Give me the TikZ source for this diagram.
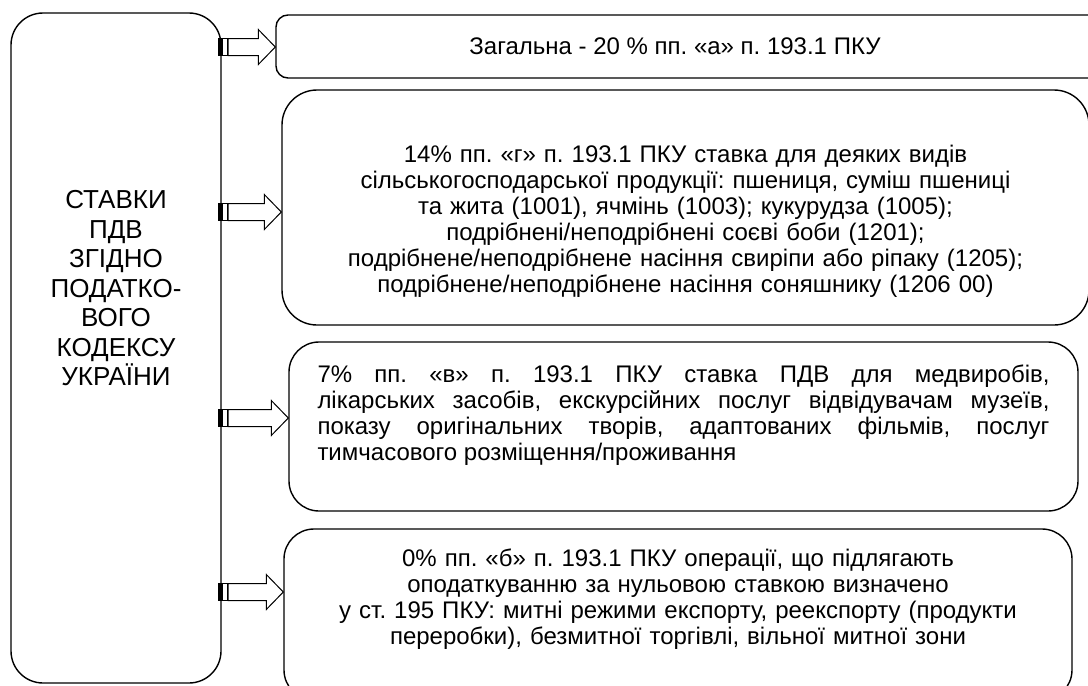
\documentclass[tikz,border=0pt]{standalone}
\usepackage{fontspec}
\setmainfont{Liberation Sans}
\frenchspacing
\usetikzlibrary{calc}
\tikzset{
  leftbox/.style={
    rectangle, rounded corners=32pt, draw=black, line width=1.4pt,
    align=center, minimum width=210pt, minimum height=670pt,
    font=\fontsize{26pt}{29.5pt}\selectfont
  },
  ratebox/.style={
    rectangle, draw=black, line width=1.4pt, inner sep=0pt,
    font=\fontsize{24pt}{26pt}\selectfont
  },
  blockarrow/.style={draw=black, line width=1pt, fill=white, line join=miter}
}
% striped block arrow: start coordinate, target node
\newcommand{\stripedarrow}[2]{%
  \draw[blockarrow] let \p1=(#1), \p2=(#2.west |- #1) in
    (\x1+10pt,\y1+8.5pt) -- (\x2-17pt,\y1+8.5pt) -- (\x2-17pt,\y1+17.5pt)
    -- (\x2,\y1) -- (\x2-17pt,\y1-17.5pt) -- (\x2-17pt,\y1-8.5pt)
    -- (\x1+10pt,\y1-8.5pt) -- cycle;
  \draw[blockarrow, fill=black] let \p1=(#1) in
    (\x1,\y1-8.5pt) rectangle (\x1+3pt,\y1+8.5pt);
  \draw[blockarrow] let \p1=(#1) in
    (\x1+4.5pt,\y1-8.5pt) rectangle (\x1+9pt,\y1+8.5pt);
}

\begin{document}
\begin{tikzpicture}[x=1pt, y=-1pt]
\useasboundingbox (0,0) rectangle (1088,686);

% Left box
\node[leftbox] (stavky) at (116,348) {СТАВКИ\\ПДВ\\ЗГІДНО\\ПОДАТКО-\\ВОГО\\КОДЕКСУ\\УКРАЇНИ\rule[-120pt]{0pt}{1pt}};

% Rate boxes
\node[ratebox, rounded corners=12pt, minimum width=824pt, minimum height=63pt] (zag) at (688,46.5)
  {\hspace*{-26pt}Загальна - 20 \% пп. «а» п. 193.1 ПКУ};
\node[ratebox, rounded corners=35pt, minimum width=807pt, minimum height=235pt,
  text width=760pt, align=center] (r14) at (685.5,207.5)
  {\rule{0pt}{44pt}14\% пп. «г» п. 193.1 ПКУ ставка для деяких видів\\
   сільськогосподарської продукції: пшениця, суміш пшениці\\
   та жита (1001), ячмінь (1003); кукурудза (1005);\\
   подрібнені/неподрібнені соєві боби (1201);\\
   подрібнене/неподрібнене насіння свиріпи або ріпаку (1205);\\
   подрібнене/неподрібнене насіння соняшнику (1206 00)};
\node[ratebox, rounded corners=30pt, minimum width=789pt, minimum height=169pt,
  text width=732pt, align=justify] (r7) at (683.5,426.5)
  {7\% пп. «в» п. 193.1 ПКУ ставка ПДВ для медвиробів,\linebreak
   лікарських засобів, екскурсійних послуг відвідувачам музеїв,\linebreak
   показу оригінальних творів, адаптованих фільмів, послуг\linebreak
   тимчасового розміщення/проживання\rule[-27pt]{0pt}{1pt}};
\node[ratebox, rounded corners=30pt, minimum width=788pt, minimum height=171pt,
  text width=780pt, align=center] (r0) at (678,614.5)
  {0\% пп. «б» п. 193.1 ПКУ операції, що підлягають\\
   оподаткуванню за нульовою ставкою визначено\\
   у ст. 195 ПКУ: митні режими експорту, реекспорту (продукти\\
   переробки), безмитної торгівлі, вільної митної зони\rule[-36pt]{0pt}{1pt}};

% Arrow starts
\coordinate (s1) at (218,47);
\coordinate (s2) at (218,212);
\coordinate (s3) at (218,418);
\coordinate (s4) at (218,592);

% Arrows to rate boxes
\stripedarrow{s1}{zag}
\stripedarrow{s2}{r14}
\stripedarrow{s3}{r7}
\stripedarrow{s4}{r0}

\end{tikzpicture}
\end{document}
